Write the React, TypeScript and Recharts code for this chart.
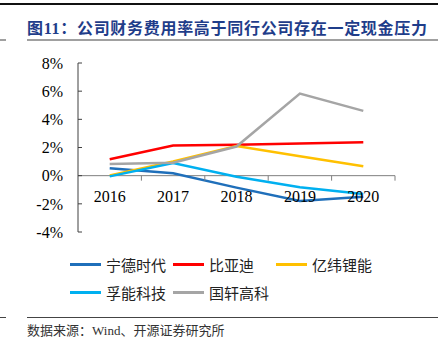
import { LineChart, Line, XAxis, YAxis, ReferenceLine } from 'recharts';

// ── Data ─────────────────────────────────────────────────────

const YEARS = ['2016', '2017', '2018', '2019', '2020'];

const CATL = [0.52, 0.17, -0.85, -1.8, -1.5];
const BYD = [1.17, 2.14, 2.19, 2.28, 2.38];
const EVE = [0.02, 1.0, 2.1, 1.38, 0.67];
const FARASIS = [-0.05, 0.9, -0.07, -0.83, -1.31];
const GOTION = [0.83, 0.92, 2.07, 5.83, 4.6];

const Y_TICKS = [-4, -2, 0, 2, 4, 6, 8];

const SERIES = [
  { key: 'catl', name: '宁德时代', values: CATL, color: '#1F6FBA' },
  { key: 'byd', name: '比亚迪', values: BYD, color: '#FF0000' },
  { key: 'eve', name: '亿纬锂能', values: EVE, color: '#FFC000' },
  { key: 'farasis', name: '孚能科技', values: FARASIS, color: '#00B0F0' },
  { key: 'gotion', name: '国轩高科', values: GOTION, color: '#A5A5A5' },
];

const rows = YEARS.map((year, i) => {
  const row: Record<string, string | number> = { year };
  SERIES.forEach((s) => { row[s.key] = s.values[i]; });
  return row;
});

// ── Layout ───────────────────────────────────────────────────

const CHART_W = 438;
const PLOT_LEFT = 78;
const PLOT_RIGHT = 395;
const PLOT_TOP = 63;
const PLOT_BOTTOM = 232;
const X_AXIS_H = 28;
const PLOT_W = PLOT_RIGHT - PLOT_LEFT;
const BAND = PLOT_W / YEARS.length;
const Y_MIN = Y_TICKS[0];
const Y_MAX = Y_TICKS[Y_TICKS.length - 1];
const ZERO_Y = PLOT_TOP + ((PLOT_BOTTOM - PLOT_TOP) * Y_MAX) / (Y_MAX - Y_MIN);

const SERIF = '"Liberation Serif", "DejaVu Serif", serif';
const CJK = '"Noto Sans CJK SC", sans-serif';

function YearTick({ x, payload }: { x: number; payload: { value: string } }) {
  const edge = x + BAND / 2;
  return (
    <g>
      <line x1={edge} y1={ZERO_Y} x2={edge} y2={ZERO_Y + 5} stroke="#7F7F7F" strokeWidth={1} />
      <text x={x} y={ZERO_Y + 26} textAnchor="middle" fontFamily={SERIF} fontSize={16} fill="#000">
        {payload.value}
      </text>
    </g>
  );
}

function LegendItem({ name, color }: { name: string; color: string }) {
  return (
    <div style={{ display: 'flex', alignItems: 'center', width: 103 }}>
      <span style={{ display: 'inline-block', width: 31, height: 3, background: color, marginRight: 5 }} />
      <span style={{ fontSize: 15, color: '#222', whiteSpace: 'nowrap' }}>{name}</span>
    </div>
  );
}

export default function App() {
  return (
    <div style={{ position: 'absolute', left: 0, top: 0, width: 438, height: 354, background: '#fff', fontFamily: CJK, overflow: 'hidden' }}>
      {/* header rule */}
      <div style={{ position: 'absolute', left: 0, top: 3, width: 438, height: 1.5, background: '#111' }} />

      {/* title */}
      <div style={{ position: 'absolute', left: 27, top: 15, fontSize: 16, fontWeight: 700, color: '#1F3D8A', letterSpacing: 0.7, whiteSpace: 'nowrap', lineHeight: '24px' }}>
        图<span style={{ fontFamily: SERIF }}>11</span>：公司财务费用率高于同行公司存在一定现金压力
      </div>
      <div style={{ position: 'absolute', left: 0, top: 39, width: 6, height: 2, background: '#A0A0A0' }} />
      <div style={{ position: 'absolute', left: 27, top: 39, width: 411, height: 2, background: '#A0A0A0' }} />

      {/* chart */}
      <div style={{ position: 'absolute', left: 0, top: 0 }}>
        <LineChart
          width={CHART_W}
          height={PLOT_BOTTOM + X_AXIS_H}
          data={rows}
          margin={{ top: PLOT_TOP, right: CHART_W - PLOT_RIGHT, bottom: 0, left: 0 }}
        >
          <XAxis
            dataKey="year"
            height={X_AXIS_H}
            axisLine={false}
            tickLine={false}
            interval={0}
            padding={{ left: BAND / 2, right: BAND / 2 }}
            tick={YearTick as any}
          />
          <YAxis
            width={PLOT_LEFT}
            domain={[Y_MIN, Y_MAX]}
            ticks={Y_TICKS}
            interval={0}
            tickFormatter={(v: number) => `${v}%`}
            axisLine={{ stroke: '#404040', strokeWidth: 1 }}
            tickLine={{ stroke: '#404040', strokeWidth: 1 }}
            tickSize={-4}
            tickMargin={19}
            tick={{ fontFamily: SERIF, fontSize: 16, fill: '#000' }}
          />
          <ReferenceLine y={0} stroke="#7F7F7F" strokeWidth={1} />
          {SERIES.map((s) => (
            <Line
              key={s.key}
              dataKey={s.key}
              name={s.name}
              stroke={s.color}
              strokeWidth={2.5}
              dot={false}
              type="linear"
              isAnimationActive={false}
            />
          ))}
        </LineChart>
      </div>

      {/* legend */}
      <div style={{ position: 'absolute', left: 70, top: 253, width: 320 }}>
        <div style={{ display: 'flex', height: 22 }}>
          {SERIES.slice(0, 3).map((s) => <LegendItem key={s.key} name={s.name} color={s.color} />)}
        </div>
        <div style={{ display: 'flex', height: 22, marginTop: 6 }}>
          {SERIES.slice(3).map((s) => <LegendItem key={s.key} name={s.name} color={s.color} />)}
        </div>
      </div>

      {/* source */}
      <div style={{ position: 'absolute', left: 0, top: 317, width: 6, height: 1, background: '#444' }} />
      <div style={{ position: 'absolute', left: 27, top: 317, width: 411, height: 1, background: '#444' }} />
      <div style={{ position: 'absolute', left: 27, top: 321, fontSize: 13, color: '#333', whiteSpace: 'nowrap', lineHeight: '18px' }}>
        数据来源：<span style={{ fontFamily: SERIF }}>Wind</span>、开源证券研究所
      </div>
    </div>
  );
}
